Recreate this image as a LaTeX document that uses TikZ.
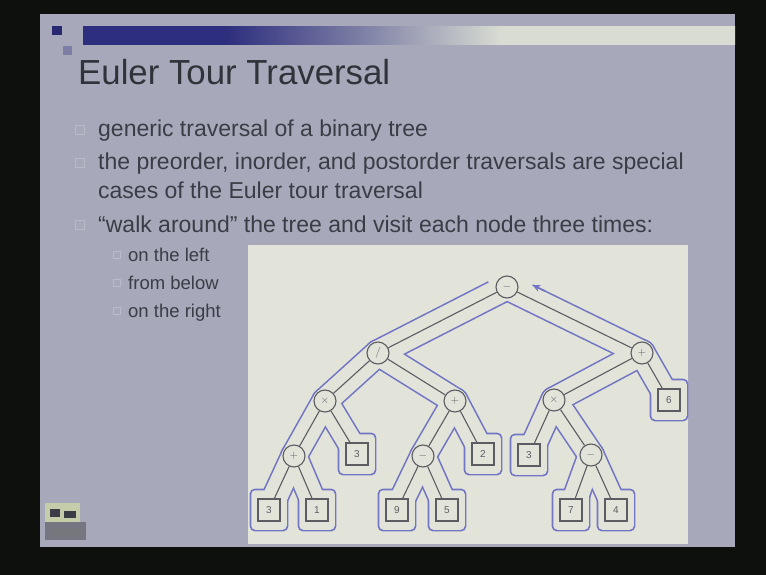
\documentclass[tikz,border=0pt]{standalone}
\usepackage{fontspec}
\setmainfont{Liberation Sans}
\usepackage{tikz}
\usetikzlibrary{arrows.meta,calc}

\definecolor{frame}{RGB}{14,16,14}
\definecolor{slidebg}{RGB}{167,169,186}
\definecolor{panel}{RGB}{226,228,218}
\definecolor{bardark}{RGB}{46,46,126}
\definecolor{barlight}{RGB}{216,220,210}
\colorlet{barmid}{bardark!55!barlight}
\definecolor{ink}{RGB}{58,60,70}
\definecolor{treeline}{RGB}{92,92,98}
\definecolor{tourblue}{RGB}{114,116,196}
\definecolor{boxgray}{RGB}{185,187,200}
\definecolor{iconbg}{RGB}{196,204,170}

\newcommand{\fs}[1]{\fontsize{#1}{#1}\selectfont}
\newcommand{\treeedges}{root/div, root/plusR, div/mulL, div/plusM, plusR/mulR, plusR/six,
  mulL/plusS, mulL/threeA, plusM/minusM, plusM/twoA, mulR/threeB, mulR/minusR,
  plusS/la, plusS/lb, minusM/lc, minusM/ld, minusR/le, minusR/lf}
\newcommand{\leafnodes}{six, threeA, twoA, threeB, la, lb, lc, ld, le, lf}

% title bar: dark on the left, fading out past the middle
\pgfdeclarehorizontalshading{titlebar}{100bp}{color(0bp)=(bardark); color(25bp)=(bardark);
  color(36bp)=(bardark); color(46bp)=(barmid); color(57bp)=(barlight); color(100bp)=(barlight)}

\pgfdeclarelayer{slide}
\pgfdeclarelayer{walk}
\pgfsetlayers{slide,walk,main}

\tikzset{
  op/.style={circle, draw=treeline, fill=panel, line width=1.1pt, minimum size=22pt,
    inner sep=0pt, font=\fs{11}, text=treeline},
  leaf/.style={rectangle, draw=treeline, fill=panel, line width=1.1pt, minimum size=22pt,
    inner sep=0pt, font=\fs{10}, text=treeline},
  treeedge/.style={draw=treeline, line width=1.1pt},
  bullettext/.style={anchor=base west, inner sep=0pt, text=ink, font=\fs{23}},
  subtext/.style={anchor=base west, inner sep=0pt, text=ink, font=\fs{18.5}},
  bul/.style={draw=boxgray, line width=1pt, minimum size=9pt, inner sep=0pt},
  subbul/.style={draw=boxgray, line width=0.8pt, minimum size=7pt, inner sep=0pt},
  tour/.style={draw=tourblue, line width=1.6pt},
}

\begin{document}
\begin{tikzpicture}[x=1pt, y=-1pt]
  \useasboundingbox (0,0) rectangle (766,575);

  % Slide, title bar and the white inset
  \begin{pgfonlayer}{slide}
    \fill[frame] (0,0) rectangle (766,575);
    \fill[slidebg] (40,14) rectangle (735,547);
    \shade[shading=titlebar] (83,27) rectangle (735,45);
    \fill[bardark!90!black] (52,26) rectangle (62,35);
    \fill[bardark!35!slidebg] (63,46) rectangle (72,55);
    \fill[panel] (248,245) rectangle (688,544);
    % little logo in the corner
    \fill[iconbg] (45,503) rectangle (80,522);
    \fill[slidebg!70!black] (45,522) rectangle (86,540);
    \fill[ink] (50,509) rectangle (60,517);
    \fill[ink] (64,511) rectangle (76,518);
    \fill[ink!70] (50,529) rectangle (82,536);
  \end{pgfonlayer}

  % Title and bullets
  \node[anchor=base west, inner sep=0pt, font=\fs{34.8}, text=ink!85!black] (title) at (78,85) {Euler Tour Traversal};

  \node[bul] (b1) at (80,130) {};
  \node[bullettext] (l1) at (98,137) {generic traversal of a binary tree};
  \node[bul] (b2) at (80,163) {};
  \node[bullettext] (l2) at (98,170) {the preorder, inorder, and postorder traversals are special};
  \node[bullettext] (l3) at (98,198) {cases of the Euler tour traversal};
  \node[bul] (b3) at (80,225) {};
  \node[bullettext] (l4) at (98,232) {“walk around” the tree and visit each node three times:};

  \node[subbul] (sb1) at (117,255) {};
  \node[subtext] (s1) at (128,261) {on the left};
  \node[subbul] (sb2) at (117,283) {};
  \node[subtext] (s2) at (128,289) {from below};
  \node[subbul] (sb3) at (117,311) {};
  \node[subtext] (s3) at (128,317) {on the right};

  % Expression tree
  \node[op] (root) at (507,287) {$-$};
  \node[op] (div) at (378,353) {$/$};
  \node[op] (plusR) at (642,353) {$+$};
  \node[op] (mulL) at (325,401) {$\times$};
  \node[op] (plusM) at (455,401) {$+$};
  \node[op] (mulR) at (554,400) {$\times$};
  \node[leaf] (six) at (669,400) {6};
  \node[op] (plusS) at (294,456) {$+$};
  \node[leaf] (threeA) at (357,454) {3};
  \node[op] (minusM) at (423,456) {$-$};
  \node[leaf] (twoA) at (483,454) {2};
  \node[leaf] (threeB) at (529,455) {3};
  \node[op] (minusR) at (591,455) {$-$};
  \node[leaf] (la) at (269,510) {3};
  \node[leaf] (lb) at (317,510) {1};
  \node[leaf] (lc) at (397,510) {9};
  \node[leaf] (ld) at (447,510) {5};
  \node[leaf] (le) at (571,510) {7};
  \node[leaf] (lf) at (616,510) {4};

  \foreach \a/\b in \treeedges
    \draw[treeedge] (\a) -- (\b);

  % Euler tour: outline of fat strokes along the edges
  \coordinate (tourtail) at (545,291.1);
  \coordinate (tourhead) at (532.5,285);
  \begin{pgfonlayer}{walk}
    \foreach \a/\b in \treeedges
      \draw[tourblue, line width=27.6pt, line cap=round] (\a.center) -- (\b.center);
    \foreach \l in \leafnodes
      \fill[tourblue, rounded corners=5pt] ($(\l.south west)+(-7.8,9.8)$) rectangle ($(\l.north east)+(7.8,-9.8)$);
    \foreach \a/\b in \treeedges
      \draw[panel, line width=24.4pt, line cap=round] (\a.center) -- (\b.center);
    \foreach \l in \leafnodes
      \fill[panel, rounded corners=4pt] ($(\l.south west)+(-6.2,8.2)$) rectangle ($(\l.north east)+(6.2,-8.2)$);
    % open the loop above the root
    \fill[panel] (root.center) -- (494.5,293.4) -- (487,279) -- (480,255) -- (540,255)
      -- (534,282) -- (526.8,296.7) -- cycle;
    \draw[tour, -{Stealth[length=8pt, width=7pt]}] (tourtail) -- (tourhead);
  \end{pgfonlayer}
\end{tikzpicture}
\end{document}
